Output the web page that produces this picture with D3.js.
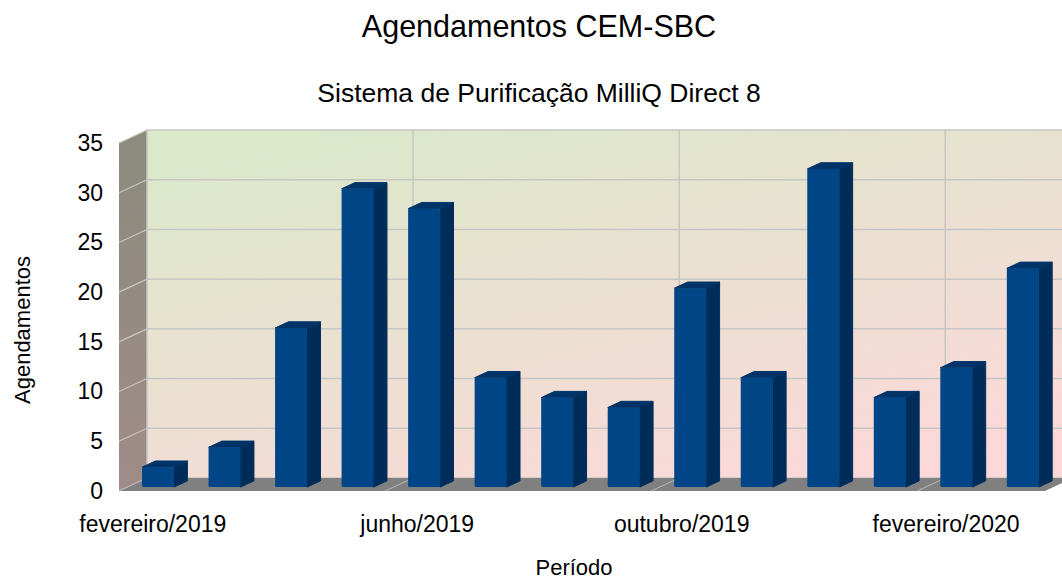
<!DOCTYPE html>
<html>
<head>
<meta charset="utf-8">
<script src="https://cdn.jsdelivr.net/npm/d3@7"></script>
<style>
  body { margin: 0; background: #fff; }
  text { font-family: "Liberation Sans", Arial, sans-serif; fill: #000; }
</style>
</head>
<body>
<div id="chart-area"></div>
<script>
// Data
const months = ['fevereiro/2019', 'março/2019', 'abril/2019', 'maio/2019', 'junho/2019',
    'julho/2019', 'agosto/2019', 'setembro/2019', 'outubro/2019', 'novembro/2019',
    'dezembro/2019', 'janeiro/2020', 'fevereiro/2020', 'março/2020'];
const agendamentos = [2, 4, 16, 30, 28, 11, 9, 8, 20, 11, 32, 9, 12, 22];
const yTicks = [0, 5, 10, 15, 20, 25, 30, 35];
const xLabels = ['fevereiro/2019', 'junho/2019', 'outubro/2019', 'fevereiro/2020'];

const W = 1062, H = 579;

// Depth offset of the 3D box
const dx = 28, dy = -13;
// Bar position inside the depth (fraction)
const f0 = 0.3, f1 = 0.78;

const svg = d3.select('#chart-area')
    .append('svg')
    .attr('width', W)
    .attr('height', H);

// Scales (front plane)
const x = d3.scaleBand()
    .domain(months)
    .range([119, 1045])
    .paddingInner(0.52)
    .paddingOuter(0.22);

const y = d3.scaleLinear()
    .domain([0, 35])
    .range([491, 143]);

const x0 = x.range()[0], x1 = x.range()[1];
const step = x.step();

// Gradients
const defs = svg.append('defs');
const grad = defs.append('linearGradient')
    .attr('id', 'wallGrad')
    .attr('x1', '0.2').attr('y1', '0')
    .attr('x2', '0.8').attr('y2', '1');
grad.append('stop').attr('offset', '0%').attr('stop-color', '#dbe8ca');
grad.append('stop').attr('offset', '100%').attr('stop-color', '#fcd8d9');

const sideGrad = defs.append('linearGradient')
    .attr('id', 'sideGrad')
    .attr('x1', '0').attr('y1', '0')
    .attr('x2', '0').attr('y2', '1');
sideGrad.append('stop').attr('offset', '0%').attr('stop-color', '#8b8b7d');
sideGrad.append('stop').attr('offset', '100%').attr('stop-color', '#a08b88');

const line = (pts) => 'M' + pts.map((p) => p.join(',')).join('L') + 'Z';

// Back wall
svg.append('rect')
    .attr('x', x0 + dx)
    .attr('y', y(35) + dy)
    .attr('width', x1 - x0)
    .attr('height', y(0) - y(35))
    .attr('fill', 'url(#wallGrad)');

// Side wall
svg.append('path')
    .attr('d', line([[x0, y(35)], [x0 + dx, y(35) + dy], [x0 + dx, y(0) + dy], [x0, y(0)]]))
    .attr('fill', 'url(#sideGrad)');

// Horizontal gridlines (back + side wall)
yTicks.forEach((v) => {
    svg.append('line')
        .attr('x1', x0 + dx).attr('x2', x1 + dx)
        .attr('y1', y(v) + dy).attr('y2', y(v) + dy)
        .attr('stroke', '#c6c6c6').attr('stroke-width', 1.5);
    svg.append('line')
        .attr('x1', x0).attr('x2', x0 + dx)
        .attr('y1', y(v)).attr('y2', y(v) + dy)
        .attr('stroke', '#c6c6c6').attr('stroke-width', 1.2);
});

// Floor
svg.append('path')
    .attr('d', line([[x0, y(0)], [x1, y(0)], [x1 + dx, y(0) + dy], [x0 + dx, y(0) + dy]]))
    .attr('fill', '#808080');

// Vertical gridlines every 4 categories
d3.range(0, months.length, 4).forEach((i) => {
    const gx = x0 + i * step;
    svg.append('line')
        .attr('x1', gx + dx).attr('x2', gx + dx)
        .attr('y1', y(35) + dy).attr('y2', y(0) + dy)
        .attr('stroke', '#c6c6c6').attr('stroke-width', 1.5);
    svg.append('line')
        .attr('x1', gx).attr('x2', gx + dx)
        .attr('y1', y(0)).attr('y2', y(0) + dy)
        .attr('stroke', '#b8b8b8').attr('stroke-width', 1);
});

// Bars
const bw = x.bandwidth();
const ox = f0 * dx, oy = f0 * dy;
const ddx = (f1 - f0) * dx, ddy = (f1 - f0) * dy;

const bars = svg.selectAll('g.bar')
    .data(agendamentos)
    .enter()
    .append('g')
    .attr('class', 'bar');

// side
bars.append('path')
    .attr('d', (d, i) => {
        const bx = x(months[i]) + ox + bw, top = y(d) + oy, bot = y(0) + oy;
        return line([[bx, top], [bx + ddx, top + ddy], [bx + ddx, bot + ddy], [bx, bot]]);
    })
    .attr('fill', '#002c5a')
    .attr('stroke', '#002c5a')
    .attr('stroke-linejoin', 'round')
    .attr('stroke-width', 1);

// top
bars.append('path')
    .attr('d', (d, i) => {
        const bx = x(months[i]) + ox, top = y(d) + oy;
        return line([[bx, top], [bx + ddx, top + ddy], [bx + bw + ddx, top + ddy], [bx + bw, top]]);
    })
    .attr('fill', '#003468')
    .attr('stroke', '#003468')
    .attr('stroke-linejoin', 'round')
    .attr('stroke-width', 1);

// front
bars.append('rect')
    .attr('x', (d, i) => x(months[i]) + ox)
    .attr('y', (d) => y(d) + oy)
    .attr('width', bw)
    .attr('height', (d) => y(0) - y(d))
    .attr('rx', 1.5)
    .attr('fill', '#004586');

// Y Axis
const yAxis = svg.append('g')
    .attr('transform', 'translate(' + x0 + ', 0)')
    .call(d3.axisLeft(y).tickValues(yTicks).tickSize(0).tickPadding(16));
yAxis.select('.domain').remove();
yAxis.selectAll('text')
    .attr('font-size', '23px')
    .attr('font-family', '"Liberation Sans", Arial, sans-serif')
    .attr('fill', '#000');

// X Axis
const xAxis = svg.append('g')
    .attr('transform', 'translate(0, ' + y(0) + ')')
    .call(d3.axisBottom(d3.scalePoint().domain(months).range([x0 + step / 2, x1 - step / 2]))
        .tickValues(xLabels).tickSize(0).tickPadding(25));
xAxis.select('.domain').remove();
xAxis.selectAll('text')
    .attr('font-size', '23px')
    .attr('font-family', '"Liberation Sans", Arial, sans-serif')
    .attr('fill', '#000');

// Titles
svg.append('text')
    .attr('x', 539)
    .attr('y', 37)
    .attr('font-size', '30.5px')
    .attr('text-anchor', 'middle')
    .text('Agendamentos CEM-SBC');

svg.append('text')
    .attr('x', 539)
    .attr('y', 102)
    .attr('font-size', '26.5px')
    .attr('text-anchor', 'middle')
    .text('Sistema de Purificação MilliQ Direct 8');

svg.append('text')
    .attr('x', 574)
    .attr('y', 575)
    .attr('font-size', '22px')
    .attr('text-anchor', 'middle')
    .text('Período');

svg.append('text')
    .attr('transform', 'translate(30, 330) rotate(-90)')
    .attr('font-size', '22px')
    .attr('text-anchor', 'middle')
    .text('Agendamentos');
</script>
</body>
</html>
